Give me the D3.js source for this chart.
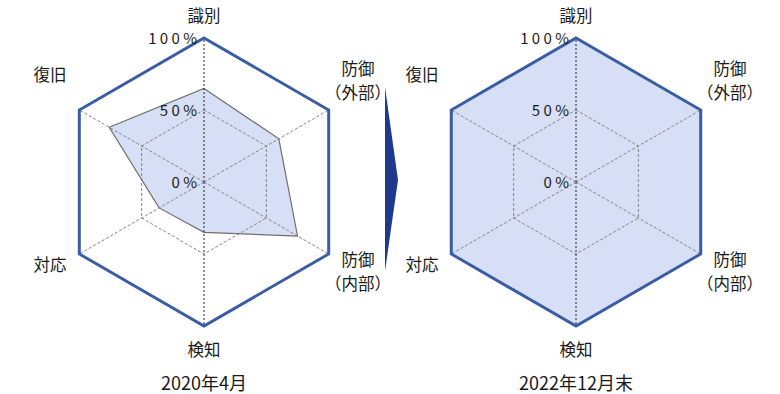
<!DOCTYPE html>
<html>
<head>
<meta charset="utf-8">
<script src="https://cdn.jsdelivr.net/npm/d3@7"></script>
<style>
	body{margin:0;background:#fff;}
	text{font-family:"Noto Sans CJK JP","Noto Sans",sans-serif;fill:#1a1a1a;}
</style>
</head>
<body>
<svg id="chart" width="780" height="394"></svg>
<script>
// axes, clockwise from top
var axes = ['識別', '防御（外部）', '防御（内部）', '検知', '対応', '復旧'];
var tickValues = [0, 50, 100];
var tickLabels = ['0 %', '5 0 %', '1 0 0 %'];
var titles = ['2020年4月', '2022年12月末'];
var values2020 = [65, 60, 75, 35, 36, 76];
var values2022 = [100, 100, 100, 100, 100, 100];

var svg = d3.select('#chart');
var R = 144;
var r = d3.scaleLinear().domain([0, 100]).range([0, R]);
var ang = d3.scalePoint().domain(d3.range(axes.length)).range([0, 2*Math.PI*5/6]);
var radial = d3.lineRadial()
	.angle(function(d, i){ return ang(i); })
	.radius(function(d){ return r(d); })
	.curve(d3.curveLinearClosed);

// label offsets for each axis (relative to center)
var labelPos = [
	{dx:0, dy:-160},
	{dx:154, dy:-107},
	{dx:154, dy:84},
	{dx:0, dy:174},
	{dx:-154, dy:89},
	{dx:-154, dy:-101}
];

function drawRadar(cx, values, title){
	var g = svg.append('g').attr('transform', 'translate(' + cx + ',182)');

	g.append('path')
		.attr('d', radial(values))
		.attr('fill', '#d6dff5')
		.attr('stroke', values[0] === 100 ? 'none' : '#6f6f6f')
		.attr('stroke-width', 1.2);

	// rings
	g.selectAll('.ring').data([50]).enter().append('path')
		.attr('d', function(v){ return radial(axes.map(function(){ return v; })); })
		.attr('fill', 'none')
		.attr('stroke', '#777')
		.attr('stroke-width', 0.9)
		.attr('stroke-dasharray', '3,2');

	// spokes
	g.selectAll('.spoke').data(axes).enter().append('line')
		.attr('x1', 0).attr('y1', 0)
		.attr('x2', function(d, i){ return r(100)*Math.sin(ang(i)); })
		.attr('y2', function(d, i){ return -r(100)*Math.cos(ang(i)); })
		.attr('stroke', function(d, i){ return i === 0 || i === 3 ? '#222' : '#777'; })
		.attr('stroke-width', function(d, i){ return i === 0 || i === 3 ? 1 : 0.9; })
		.attr('stroke-dasharray', function(d, i){ return i === 0 || i === 3 ? '2,2' : '3,2'; });

	// outer ring
	g.append('path')
		.attr('d', radial(axes.map(function(){ return 100; })))
		.attr('fill', 'none')
		.attr('stroke', '#3a5ca4')
		.attr('stroke-width', 3)
		.attr('stroke-linejoin', 'miter');

	// tick labels
	g.selectAll('.tick').data(tickValues).enter().append('text')
		.attr('x', -7)
		.attr('y', function(d){ return -r(d) + 6; })
		.attr('text-anchor', 'end')
		.attr('font-size', 15)
		.text(function(d, i){ return tickLabels[i]; });

	// axis labels
	axes.forEach(function(a, i){
		var p = labelPos[i];
		var m = a.match(/^(.+)(（.+）)$/);
		var t = g.append('text')
			.attr('x', p.dx).attr('y', p.dy)
			.attr('text-anchor', 'middle')
			.attr('font-size', 16.5);
		if (m){
			t.append('tspan').attr('x', p.dx).text(m[1]);
			t.append('tspan').attr('x', p.dx).attr('dy', 24).text(m[2]);
		} else {
			t.text(a);
		}
	});

	g.append('text')
		.attr('x', 0).attr('y', 208)
		.attr('text-anchor', 'middle')
		.attr('font-size', 18)
		.text(title);
}

drawRadar(204, values2020, titles[0]);
drawRadar(576, values2022, titles[1]);

// arrow
svg.append('path')
	.attr('d', 'M385,87 L398,180 L385,271 Z')
	.attr('fill', '#1f3a8c');
</script>
</body>
</html>
